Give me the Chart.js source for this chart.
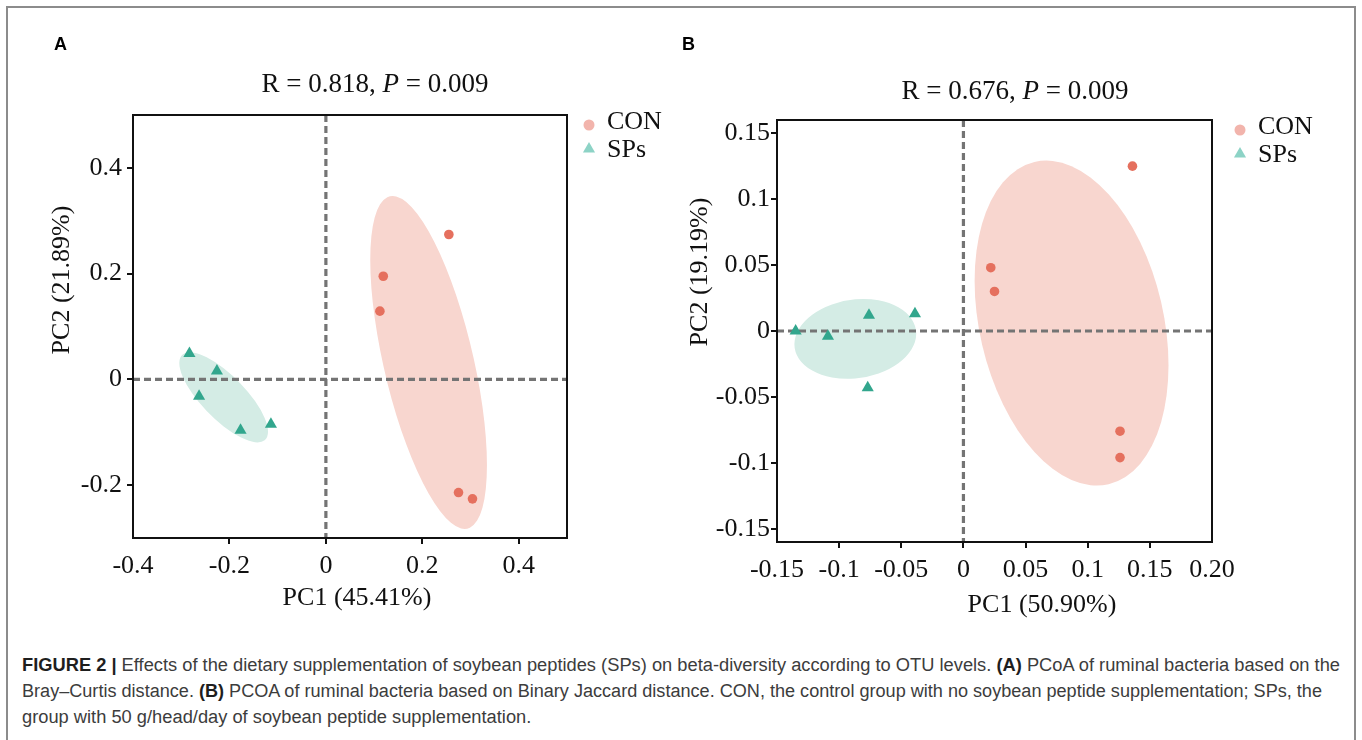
<!DOCTYPE html>
<html>
<head>
<meta charset="utf-8">
<title>PCoA of ruminal bacteria</title>
<script src="https://cdn.jsdelivr.net/npm/chart.js@4.4.0/dist/chart.umd.min.js"></script>
<style>
  body { margin: 0; width: 1362px; height: 740px; overflow: hidden; background: #fff; position: relative; }
  .frame { position: absolute; left: 6px; top: 6px; width: 1350px; height: 800px; border: 2px solid #8c8c8c; box-sizing: border-box; }
  canvas { position: absolute; top: 0; }
  #chartA { left: 0; }
  #chartB { left: 680px; }
  .caption {
    position: absolute; left: 22px; top: 652px;
    font-family: "Liberation Sans Narrow", "Arial Narrow", "Liberation Sans", Arial, sans-serif;
    font-size: 18px; line-height: 26px; color: #3c3c3c; white-space: nowrap;
  }
  .caption span { display: inline-block; transform-origin: 0 50%; }
  .caption b { color: #1e1e1e; }
</style>
</head>
<body>
<div class="frame"></div>
<canvas id="chartA" width="680" height="630"></canvas>
<canvas id="chartB" width="682" height="630"></canvas>
<div class="caption">
  <span data-w="1318"><b>FIGURE 2 |</b> Effects of the dietary supplementation of soybean peptides (SPs) on beta-diversity according to OTU levels. <b>(A)</b> PCoA of ruminal bacteria based on the</span><br>
  <span data-w="1300">Bray–Curtis distance. <b>(B)</b> PCOA of ruminal bacteria based on Binary Jaccard distance. CON, the control group with no soybean peptide supplementation; SPs, the</span><br>
  <span>group with 50 g/head/day of soybean peptide supplementation.</span>
</div>
<script>
// Bray-Curtis PCoA scores (A)
const conA_pc1 = [0.255, 0.119, 0.112, 0.275, 0.304];
const conA_pc2 = [0.274, 0.195, 0.129, -0.214, -0.226];
const spsA_pc1 = [-0.283, -0.226, -0.263, -0.177, -0.114];
const spsA_pc2 = [0.049, 0.016, -0.032, -0.096, -0.085];

// Binary Jaccard PCoA scores (B)
const conB_pc1 = [0.136, 0.022, 0.025, 0.126, 0.126];
const conB_pc2 = [0.125, 0.048, 0.030, -0.076, -0.096];
const spsB_pc1 = [-0.135, -0.109, -0.076, -0.039, -0.077];
const spsB_pc2 = [0.000, -0.004, 0.012, 0.013, -0.043];

// group ellipses: centre, then two conjugate radii (axis units)
const ellA_con = [0.213, 0.032, 0.121, -0.194, 0, 0.248];
const ellA_sps = [-0.212, -0.034, 0.092, -0.065, 0, 0.055];
const ellB_con = [0.087, 0.006, 0.078, -0.032, 0, 0.119];
const ellB_sps = [-0.087, -0.006, 0.049, 0.004, 0, 0.030];

// axis ticks
const ticksA_x = [-0.4, -0.2, 0, 0.2, 0.4];
const labelsA_x = ['-0.4', '-0.2', '0', '0.2', '0.4'];
const ticksA_y = [-0.2, 0, 0.2, 0.4];
const labelsA_y = ['-0.2', '0', '0.2', '0.4'];
const ticksB_x = [-0.15, -0.1, -0.05, 0, 0.05, 0.1, 0.15, 0.2];
const labelsB_x = ['-0.15', '-0.1', '-0.05', '0', '0.05', '0.1', '0.15', '0.20'];
const ticksB_y = [-0.15, -0.1, -0.05, 0, 0.05, 0.1, 0.15];
const labelsB_y = ['-0.15', '-0.1', '-0.05', '0', '0.05', '0.1', '0.15'];

const groups = ['CON', 'SPs'];

const CON_DOT = '#e5705e';
const CON_FILL = '#f8d6cf';
const CON_KEY = '#f2b4ac';
const SPS_DOT = '#32a68d';
const SPS_FILL = '#d4ece5';
const SPS_KEY = '#8dd3c6';
const SERIF = '"Liberation Serif", "Times New Roman", serif';

// squeeze the caption lines to the column width, last line keeps the first line's factor
let squeeze = 1;
document.querySelectorAll('.caption span').forEach((s, i) => {
  if (s.dataset.w) {
    const k = Number(s.dataset.w) / s.getBoundingClientRect().width;
    if (i === 0) squeeze = k;
    s.style.transform = 'scaleX(' + k + ')';
  } else {
    s.style.transform = 'scaleX(' + squeeze + ')';
  }
});

function pts(xs, ys) {
  return xs.map((v, i) => ({ x: v, y: ys[i] }));
}

function triangle(ctx, x, y, r) {
  ctx.beginPath();
  for (let k = 0; k < 3; k++) {
    const a = k * 2 * Math.PI / 3;
    ctx.lineTo(x + Math.sin(a) * r, y - Math.cos(a) * r);
  }
  ctx.closePath();
  ctx.fill();
}

// ellipses, zero lines, frame, titles and key
const decor = {
  id: 'decor',
  beforeDatasetsDraw(chart, args, o) {
    const { ctx, chartArea: a, scales: { x, y } } = chart;
    ctx.save();
    ctx.beginPath();
    ctx.rect(a.left, a.top, a.width, a.height);
    ctx.clip();
    o.ellipses.forEach(([e, color]) => {
      const cx = x.getPixelForValue(e[0]);
      const cy = y.getPixelForValue(e[1]);
      const ux = x.getPixelForValue(e[0] + e[2]) - cx;
      const uy = y.getPixelForValue(e[1] + e[3]) - cy;
      const vx = x.getPixelForValue(e[0] + e[4]) - cx;
      const vy = y.getPixelForValue(e[1] + e[5]) - cy;
      ctx.save();
      ctx.transform(ux, uy, vx, vy, cx, cy);
      ctx.beginPath();
      ctx.arc(0, 0, 1, 0, Math.PI * 2);
      ctx.restore();
      ctx.fillStyle = color;
      ctx.fill();
    });
    const x0 = x.getPixelForValue(0);
    const y0 = y.getPixelForValue(0);
    ctx.strokeStyle = '#747474';
    ctx.lineWidth = 3.2;
    ctx.setLineDash([7, 4]);
    ctx.beginPath();
    ctx.moveTo(x0, a.top);
    ctx.lineTo(x0, a.bottom);
    ctx.moveTo(a.left, y0);
    ctx.lineTo(a.right, y0);
    ctx.stroke();
    ctx.restore();
  },
  afterDraw(chart, args, o) {
    const { ctx, chartArea: a } = chart;
    ctx.save();
    ctx.strokeStyle = '#111';
    ctx.lineWidth = 2;
    ctx.strokeRect(a.left, a.top, a.width, a.height);

    // panel letter
    ctx.fillStyle = '#000';
    ctx.font = 'bold 18px "Liberation Sans", Arial, sans-serif';
    ctx.textBaseline = 'middle';
    ctx.textAlign = 'left';
    ctx.fillText(o.letter[0], o.letter[1], o.letter[2]);

    // statistic line with italic P
    ctx.fillStyle = '#111';
    const parts = [[o.title[0], 'normal'], ['P', 'italic'], [o.title[1], 'normal']];
    let w = 0;
    parts.forEach(p => { ctx.font = p[1] + ' 27px ' + SERIF; w += ctx.measureText(p[0]).width; });
    let tx = o.titlePos[0] - w / 2;
    parts.forEach(p => {
      ctx.font = p[1] + ' 27px ' + SERIF;
      ctx.fillText(p[0], tx, o.titlePos[1]);
      tx += ctx.measureText(p[0]).width;
    });

    // axis titles
    ctx.font = '26px ' + SERIF;
    ctx.textAlign = 'center';
    ctx.fillText(o.xTitle[0], o.xTitle[1], o.xTitle[2]);
    ctx.save();
    ctx.translate(o.yTitle[1], o.yTitle[2]);
    ctx.rotate(-Math.PI / 2);
    ctx.fillText(o.yTitle[0], 0, 0);
    ctx.restore();

    // key
    const [kx, ky] = o.key;
    ctx.fillStyle = CON_KEY;
    ctx.beginPath();
    ctx.arc(kx, ky, 5.5, 0, Math.PI * 2);
    ctx.fill();
    ctx.fillStyle = SPS_KEY;
    triangle(ctx, kx, ky + 24, 7);
    ctx.fillStyle = '#111';
    ctx.textAlign = 'left';
    ctx.font = '26px ' + SERIF;
    ctx.fillText(groups[0], kx + 18, ky - 3);
    ctx.fillText(groups[1], kx + 18, ky + 25);
    ctx.restore();
  }
};

function axis(min, max, ticks, labels, pad, fit) {
  return {
    type: 'linear',
    min: min,
    max: max,
    afterBuildTicks: s => { s.ticks = ticks.map(v => ({ value: v })); },
    afterFit: fit,
    border: { display: false },
    grid: {
      drawOnChartArea: false,
      drawTicks: true,
      tickLength: 6,
      lineWidth: 2,
      color: c => (c.tick && (c.tick.value <= min || c.tick.value >= max)) ? 'rgba(0,0,0,0)' : '#111'
    },
    ticks: {
      autoSkip: false,
      maxRotation: 0,
      padding: pad,
      color: '#111',
      font: { family: SERIF, size: 26 },
      callback: (v, i) => labels[i]
    }
  };
}

function panel(id, sets, ell, xs, ys, padding, deco) {
  return new Chart(document.getElementById(id), {
    type: 'scatter',
    data: {
      datasets: [{
        label: groups[0],
        data: sets[0],
        pointStyle: 'circle',
        pointRadius: 4.8,
        pointBorderWidth: 0,
        backgroundColor: CON_DOT
      }, {
        label: groups[1],
        data: sets[1],
        pointStyle: 'triangle',
        pointRadius: 7,
        pointBorderWidth: 0,
        backgroundColor: SPS_DOT
      }]
    },
    options: {
      responsive: false,
      animation: false,
      layout: { padding: padding },
      scales: { x: xs, y: ys },
      plugins: {
        legend: { display: false },
        tooltip: { enabled: false },
        decor: Object.assign({ ellipses: ell }, deco)
      }
    },
    plugins: [decor]
  });
}

panel('chartA',
  [pts(conA_pc1, conA_pc2), pts(spsA_pc1, spsA_pc2)],
  [[ellA_con, CON_FILL], [ellA_sps, SPS_FILL]],
  axis(-0.4, 0.5, ticksA_x, labelsA_x, 7, s => { s.height = 60; }),
  axis(-0.3, 0.5, ticksA_y, labelsA_y, 5, s => { s.width = 70; }),
  { left: 63, top: 115, right: 113, bottom: 32 },
  {
    letter: ['A', 54, 45],
    title: ['R = 0.818, ', ' = 0.009'], titlePos: [375, 85],
    xTitle: ['PC1 (45.41%)', 357, 598],
    yTitle: ['PC2 (21.89%)', 62, 280],
    key: [589, 125]
  });

panel('chartB',
  [pts(conB_pc1, conB_pc2), pts(spsB_pc1, spsB_pc2)],
  [[ellB_con, CON_FILL], [ellB_sps, SPS_FILL]],
  axis(-0.15, 0.2, ticksB_x, labelsB_x, 7, s => { s.height = 60; }),
  axis(-0.16, 0.16, ticksB_y, labelsB_y, 1, s => { s.width = 70; }),
  { left: 27, top: 120, right: 150, bottom: 28 },
  {
    letter: ['B', 2, 45],
    title: ['R = 0.676, ', ' = 0.009'], titlePos: [335, 92],
    xTitle: ['PC1 (50.90%)', 362, 605],
    yTitle: ['PC2 (19.19%)', 20, 272],
    key: [560, 130]
  });
</script>
</body>
</html>
